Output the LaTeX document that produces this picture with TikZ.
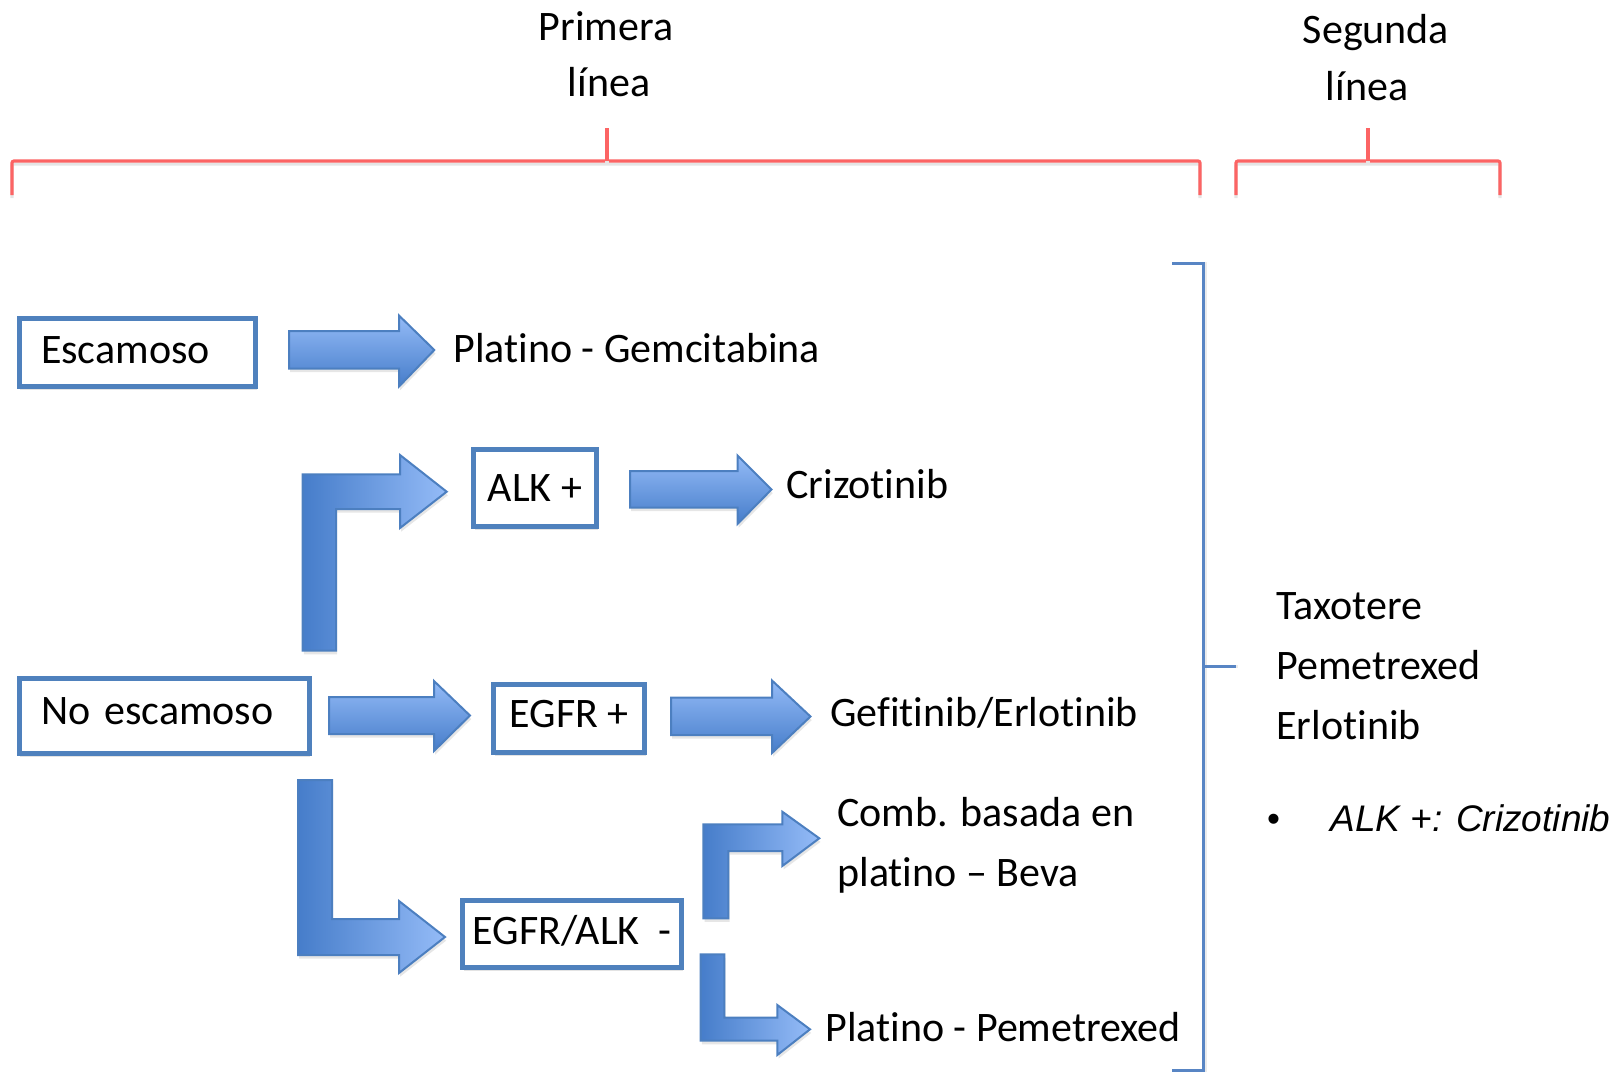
\documentclass[tikz,border=0pt]{standalone}
\usepackage{fontspec}
\setmainfont{Carlito}[Ligatures=NoCommon]
\newfontfamily\arialfont{Liberation Sans}
\usetikzlibrary{shadows}

\definecolor{cajaazul}{RGB}{79,129,189}
\definecolor{flechaborde}{RGB}{76,127,192}
\definecolor{flechaosc}{RGB}{70,125,202}
\definecolor{flechaclara}{RGB}{148,187,247}
\definecolor{llaveroja}{RGB}{252,100,100}
\definecolor{llaveazul}{RGB}{88,133,196}

\tikzset{
  caja/.style={draw=cajaazul, line width=2.5pt, fill=white,
    font=\fontsize{21}{25}\selectfont, text height=13.5pt, text depth=3pt,
    drop shadow={shadow xshift=0.6pt, shadow yshift=-1.8pt, opacity=0.22}},
  texto/.style={font=\fontsize{21}{25}\selectfont, inner sep=0pt, anchor=base west},
  flecha/.style={draw=flechaborde, line width=1pt, top color=flechaclara, bottom color=flechaosc,
    drop shadow={shadow xshift=0.6pt, shadow yshift=-1.8pt, opacity=0.2}},
  flechacodo/.style={draw=flechaborde, line width=1pt, left color=flechaosc, right color=flechaclara,
    drop shadow={shadow xshift=0.6pt, shadow yshift=-1.8pt, opacity=0.2}},
  corchete/.style={draw=llaveroja, line width=1.6pt, rounded corners=1pt,
    preaction={draw=black!10, line width=1.6pt, transform canvas={yshift=-1.5pt}}},
  llave/.style={draw=llaveazul, line width=1.5pt,
    preaction={draw=black!8, line width=1.5pt, transform canvas={xshift=1.2pt}}}
}

\begin{document}
\begin{tikzpicture}[x=0.5pt, y=-0.5pt]
\useasboundingbox (0,0) rectangle (1613,1073);

% cabeceras
\node[texto, anchor=base] (prim1) at (606,40) {Primera};
\node[texto, anchor=base] (prim2) at (609,96) {línea};
\node[texto, anchor=base] (seg1) at (1376,43.5) {Segunda};
\node[texto, anchor=base] (seg2) at (1367,100.5) {línea};

\draw[corchete] (12,195) -- (12,161) -- (1200,161) -- (1200,195);
\draw[corchete] (607,161) -- (607,128);
\draw[corchete] (1236,195) -- (1236,161) -- (1500,161) -- (1500,195);
\draw[corchete] (1368,161) -- (1368,128);

% cajas
\node[caja, minimum width=118.25pt, minimum height=34pt, text width=96.25pt,
  inner xsep=11pt, align=left] (esc) at (137.25,352.5) {Escamoso};
\node[caja, minimum width=145.1pt, minimum height=37.5pt, text width=123.1pt,
  inner xsep=11pt, align=left, text depth=5pt] (noesc) at (164.1,716) {No escamoso};
\node[caja, minimum width=61.5pt, minimum height=38.75pt, text depth=0pt] (alk) at (535,487.75) {ALK +};
\node[caja, minimum width=75.5pt, minimum height=34pt, text depth=4.5pt] (egfr) at (569,718.5) {EGFR +};
\node[caja, minimum width=109.5pt, minimum height=33.5pt] (neg) at (572,934) {EGFR/ALK\ \ -};

% flechas rectas
\path[flecha] (289,331) -- (399,331) -- (399,315.5) -- (434.3,350) -- (399,386.5)
  -- (399,368.5) -- (289,368.5) -- cycle;
\path[flecha] (630,471) -- (737.5,471) -- (737.5,455.5) -- (771.5,489.5) -- (737.5,524)
  -- (737.5,507.5) -- (630,507.5) -- cycle;
\path[flecha] (329,697) -- (434,697) -- (434,681) -- (470,715.5) -- (434,751)
  -- (434,734) -- (329,734) -- cycle;
\path[flecha] (671,697.5) -- (772,697.5) -- (772,680.5) -- (810.5,716.5) -- (772,753)
  -- (772,735) -- (671,735) -- cycle;

% flechas en codo
\path[flechacodo] (302.7,650.7) -- (302.7,474.3) -- (400,474.3) -- (400,455) -- (446.7,491.7)
  -- (400,528) -- (400,509) -- (336,509) -- (336,650.7) -- cycle;
\path[flechacodo] (298,780) -- (332,780) -- (332,919) -- (399,919) -- (399,901) -- (445,937)
  -- (399,973) -- (399,955) -- (298,955) -- cycle;
\path[flechacodo] (703.3,918.3) -- (703.3,824.3) -- (782.3,824.3) -- (782.3,811.7) -- (819.3,838.3)
  -- (782.3,866) -- (782.3,851) -- (728.3,851) -- (728.3,918.3) -- cycle;
\path[flechacodo] (700.7,954.3) -- (724.3,954.3) -- (724.3,1017.7) -- (777.3,1017.7) -- (777.3,1005)
  -- (810,1029.3) -- (777.3,1055) -- (777.3,1040.7) -- (700.7,1040.7) -- cycle;

% tratamientos de primera linea
\node[texto] (platgem) at (453,362) {Platino - Gemcitabina};
\node[texto] (criz) at (786,498) {Crizotinib};
\node[texto] (gefi) at (830,726.5) {Gefitinib/Erlotinib};
\node[texto] (comb1) at (837,826) {Comb. basada en};
\node[texto] (comb2) at (837,886.5) {platino -- Beva};
\node[texto] (platpem) at (825,1041) {Platino - Pemetrexed};

% llave y segunda linea
\draw[llave] (1172,1070) -- (1203,1070) -- (1203,263) -- (1172,263);
\draw[llave] (1203,666.6) -- (1236,666.6);

\node[texto] (taxo) at (1276,619.5) {Taxotere};
\node[texto] (peme) at (1276,679) {Pemetrexed};
\node[texto] (erlo) at (1276,739.5) {Erlotinib};
\node[texto, anchor=base, font=\arialfont\fontsize{18.5}{22}\selectfont] (bul) at (1273.5,831) {•};
\node[texto, font=\arialfont\itshape\fontsize{18.5}{22}\selectfont] (alkcriz) at (1330,831) {ALK +: Crizotinib};
\end{tikzpicture}
\end{document}
